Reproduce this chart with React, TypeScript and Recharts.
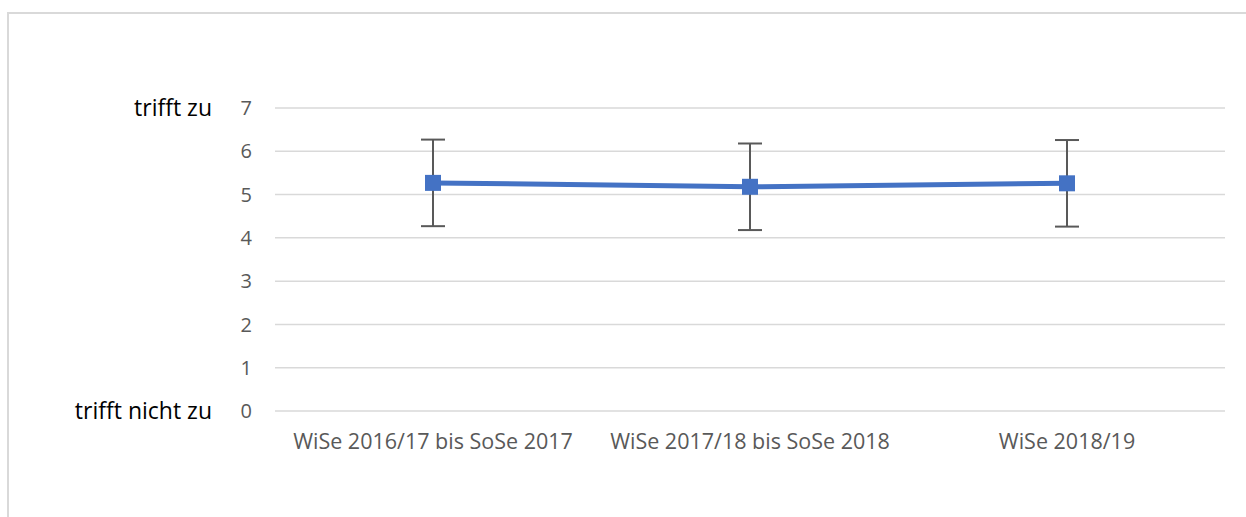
import React from 'react';
import {
  LineChart,
  Line,
  XAxis,
  YAxis,
  CartesianGrid,
  ErrorBar,
} from 'recharts';

// semesters on the x axis
const semesters = [
  'WiSe 2016/17 bis SoSe 2017',
  'WiSe 2017/18 bis SoSe 2018',
  'WiSe 2018/19',
];
// mean rating and the +/- deviation drawn as error bars
const means = [5.27, 5.18, 5.26];
const deviations = [1.0, 1.0, 1.0];
const yTicks = [0, 1, 2, 3, 4, 5, 6, 7];
// verbal anchors next to the scale ends
const scaleLabels: Record<number, string> = { 7: 'trifft zu', 0: 'trifft nicht zu' };

const data = semesters.map((name, i) => ({
  name,
  mean: means[i],
  err: deviations[i],
}));

const FONT = '"Open Sans", sans-serif';
const BLUE = '#4472C4';

const SquareDot = (props: any) => {
  const { cx, cy } = props;
  if (cx == null || cy == null) return null;
  return <rect x={cx - 8} y={cy - 8} width={16} height={16} fill={BLUE} />;
};

const YTick = (props: any) => {
  const { x, y, payload } = props;
  const extra = scaleLabels[payload.value];
  return (
    <g>
      <text x={x} y={y} dy="0.355em" textAnchor="end" fill="#595959" fontSize={20} fontFamily={FONT}>
        {payload.value}
      </text>
      {extra && (
        <text x={x - 40} y={y} dy="0.355em" textAnchor="end" fill="#000" fontSize={23} fontFamily={FONT}>
          {extra}
        </text>
      )}
    </g>
  );
};

export default function App() {
  return (
    <div style={{ position: 'absolute', left: 0, top: 0, width: 1246, height: 517, background: '#fff', overflow: 'hidden' }}>
      <div
        style={{
          position: 'absolute',
          left: 7,
          top: 12,
          width: 1300,
          height: 600,
          borderLeft: '2px solid #d9d9d9',
          borderTop: '2px solid #d9d9d9',
        }}
      />
      <div style={{ position: 'absolute', left: 0, top: 0 }}>
        <LineChart
          width={1246}
          height={517}
          data={data}
          margin={{ top: 108, right: 21, left: 215, bottom: 65 }}
        >
          <CartesianGrid vertical={false} stroke="#d9d9d9" strokeWidth={1.5} />
          <XAxis
            dataKey="name"
            axisLine={false}
            tickLine={false}
            tickSize={0}
            tickMargin={23}
            height={41}
            padding={{ left: 158, right: 158 }}
            tick={{ fill: '#595959', fontSize: 21.5, fontFamily: FONT }}
            interval={0}
          />
          <YAxis
            domain={[0, 7]}
            ticks={yTicks}
            width={60}
            axisLine={false}
            tickLine={false}
            tickSize={0}
            tickMargin={23}
            tick={<YTick />}
            interval={0}
          />
          <Line
            type="linear"
            dataKey="mean"
            stroke={BLUE}
            strokeWidth={5}
            dot={<SquareDot />}
            activeDot={false}
            isAnimationActive={false}
          >
            <ErrorBar
              dataKey="err"
              width={12}
              strokeWidth={2}
              stroke="#595959"
              direction="y"
              isAnimationActive={false}
            />
          </Line>
        </LineChart>
      </div>
    </div>
  );
}
